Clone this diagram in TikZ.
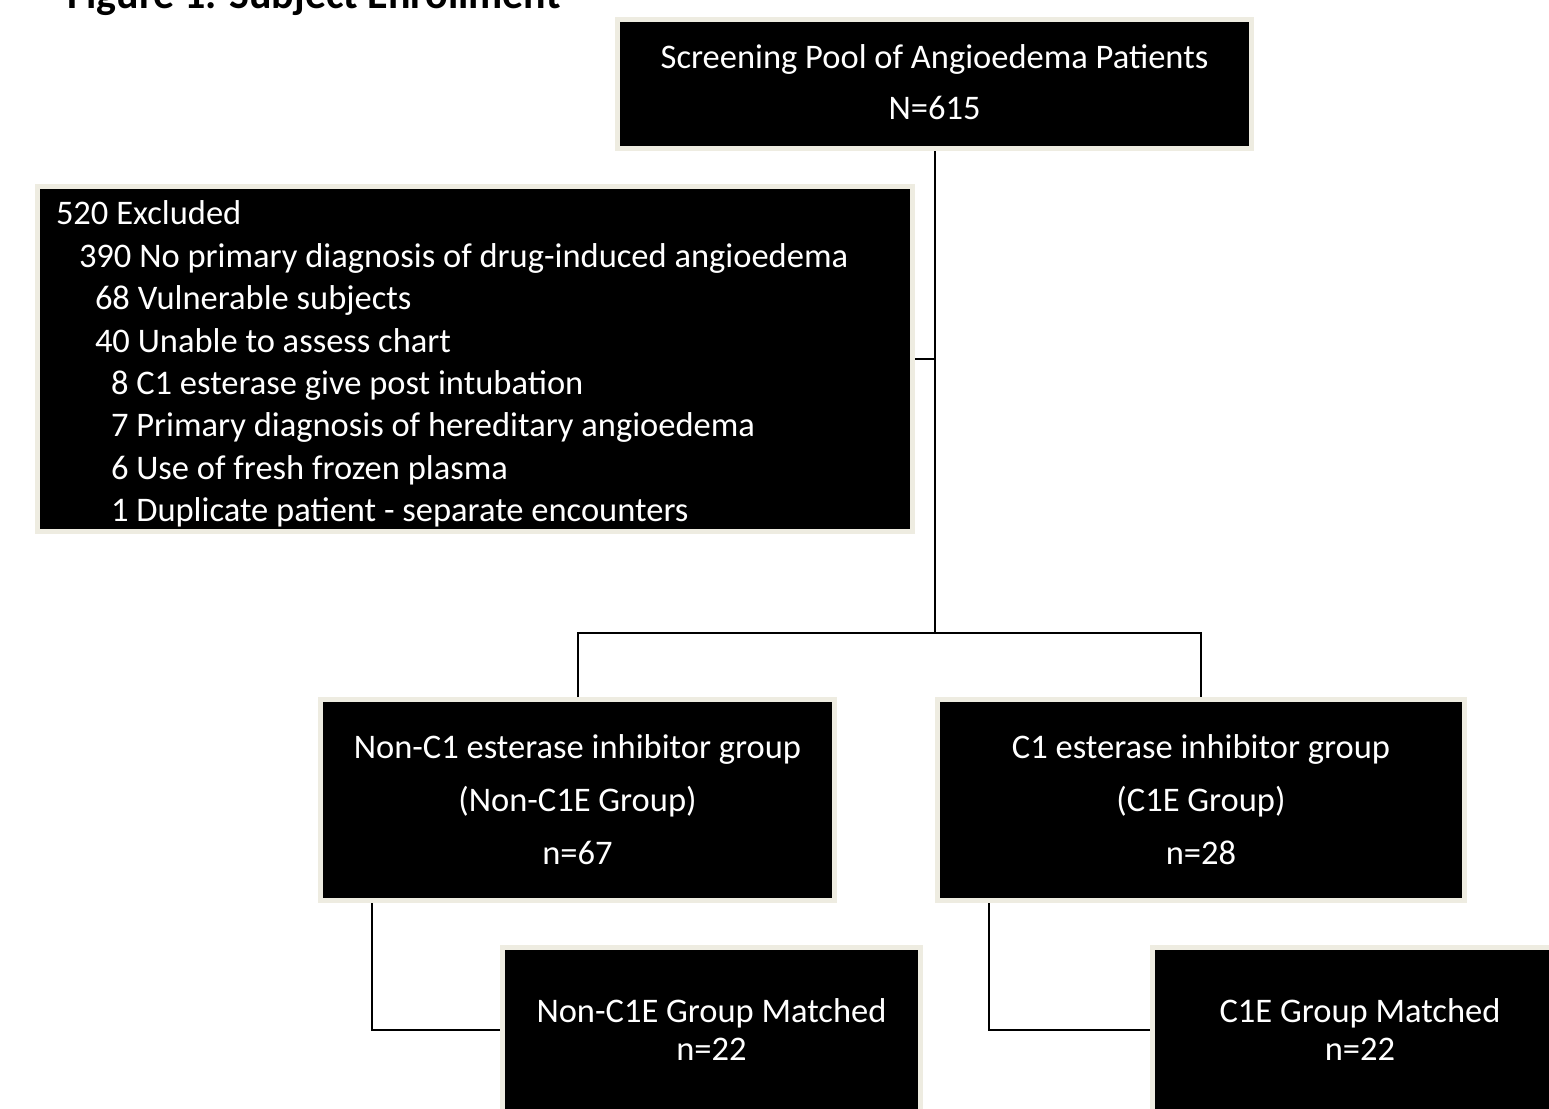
\documentclass[tikz,border=0pt]{standalone}
\usepackage{fontspec}
\setmainfont{Carlito}
\definecolor{cream}{HTML}{EEECE1}
\begin{document}
\begin{tikzpicture}[x=1pt,y=-1pt,
  box/.style={fill=black, draw=cream, line width=5pt, text=white, inner sep=0pt,
    font=\fontsize{34.5}{51}\selectfont, align=center},
  conn/.style={draw=black, line width=2pt, line join=miter},
  titletext/.style={anchor=base west, inner sep=0pt, font=\fontsize{42}{44}\selectfont\bfseries}]
\useasboundingbox (0,0) rectangle (1549,1108);
\clip (0,0) rectangle (1549,1108);
\fill[white] (0,0) rectangle (1549,1108);

\node[titletext] (title) at (67,9) {Figure 1. Subject Enrollment};

\node[box, minimum width=634pt, minimum height=129pt] (pool) at (934.5,84)
  {Screening Pool of Angioedema Patients\\N=615\rule[-4pt]{0pt}{4pt}};

\node[box, inner xsep=18.5pt, minimum width=875pt, minimum height=345pt,
  font=\fontsize{34.5}{42.4}\selectfont] (excl) at (475,359)
  {\begin{minipage}{838pt}\raggedright\parindent=0pt
   \vspace*{10pt}520 Excluded\\
   \hspace*{23pt}390 No primary diagnosis of drug-induced angioedema\\
   \hspace*{39pt}68 Vulnerable subjects\\
   \hspace*{39pt}40 Unable to assess chart\\
   \hspace*{55pt}8 C1 esterase give post intubation\\
   \hspace*{55pt}7 Primary diagnosis of hereditary angioedema\\
   \hspace*{55pt}6 Use of fresh frozen plasma\\
   \hspace*{55pt}1 Duplicate patient - separate encounters
   \end{minipage}};

\node[box, font=\fontsize{34.5}{53}\selectfont, minimum width=514pt, minimum height=201pt]
  (nonc1) at (577.5,800) {Non-C1 esterase inhibitor group\\(Non-C1E Group)\\n=67};
\node[box, font=\fontsize{34.5}{53}\selectfont, minimum width=527pt, minimum height=201pt]
  (c1) at (1201,800) {C1 esterase inhibitor group\\(C1E Group)\\n=28};

\node[box, font=\fontsize{34.5}{38}\selectfont, minimum width=418pt, minimum height=165pt]
  (m1) at (711.5,1030) {Non-C1E Group Matched\\n=22};
\node[box, font=\fontsize{34.5}{38}\selectfont, minimum width=415pt, minimum height=165pt]
  (m2) at (1360,1030) {C1E Group Matched\\n=22};

\coordinate (split) at (934.5,633);
\draw[conn] (pool.south) -- (split);
\draw[conn] (nonc1.north) |- (split) -| (c1.north);
\draw[conn] (excl.east) -- (excl.east -| pool.south);
\draw[conn] ([xshift=-205.5pt]nonc1.south) |- (m1.west);
\draw[conn] ([xshift=-212pt]c1.south) |- (m2.west);
\end{tikzpicture}
\end{document}
